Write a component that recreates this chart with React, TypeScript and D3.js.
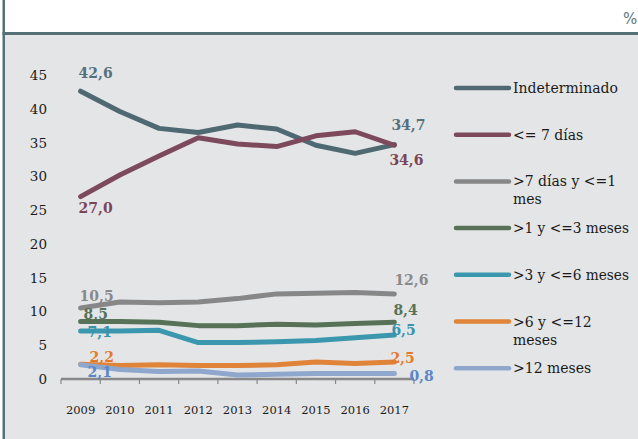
import React from "react";
import * as d3 from "d3";

const years = ["2009", "2010", "2011", "2012", "2013", "2014", "2015", "2016", "2017"];
const seriesNames = [
  "Indeterminado",
  "<= 7 días",
  ">7 días y <=1 mes",
  ">1 y <=3 meses",
  ">3 y <=6 meses",
  ">6 y <=12 meses",
  ">12 meses",
];
const indeterminado = [42.6, 39.6, 37.1, 36.5, 37.6, 37.0, 34.6, 33.4, 34.7];
const hasta7dias = [27.0, 30.2, 33.0, 35.7, 34.8, 34.4, 36.0, 36.6, 34.6];
const hasta1mes = [10.5, 11.4, 11.3, 11.4, 11.9, 12.6, 12.7, 12.8, 12.6];
const hasta3meses = [8.5, 8.5, 8.4, 7.9, 7.9, 8.1, 8.0, 8.2, 8.4];
const hasta6meses = [7.1, 7.1, 7.2, 5.4, 5.4, 5.5, 5.7, 6.1, 6.5];
const hasta12meses = [2.2, 2.0, 2.1, 2.0, 2.0, 2.1, 2.5, 2.3, 2.5];
const mas12meses = [2.1, 1.4, 1.1, 1.2, 0.6, 0.7, 0.8, 0.8, 0.8];
const seriesValues = [indeterminado, hasta7dias, hasta1mes, hasta3meses, hasta6meses, hasta12meses, mas12meses];
const yTicks = [0, 5, 10, 15, 20, 25, 30, 35, 40, 45];

const lineColors = ["#4f6973", "#7d4a5b", "#878787", "#587258", "#3b97ae", "#e0843a", "#8fa7cd"];
const labelColors = ["#56707a", "#7b4556", "#898989", "#587258", "#3a93ab", "#e47a28", "#5b86c8"];
// label offsets [first dx, first dy, last dx, last dy]
const labelOffsets = [
  [-2, -13, -3, -15],
  [-2, 16, -5, 20],
  [-1, -7, 0, -9],
  [3, -3, -1, -7],
  [7, 6, -3, 0],
  [9, -2, -4, 1],
  [7, 12, 15, 7],
];

const fmt = (v: number) => v.toFixed(1).replace(".", ",");

const FONT = "'DejaVu Serif', serif";

let ctx: CanvasRenderingContext2D | null = null;
function measure(text: string, font: string): number {
  if (!ctx) ctx = document.createElement("canvas").getContext("2d");
  if (!ctx) return text.length * 7;
  ctx.font = font;
  return ctx.measureText(text).width;
}

function wrap(text: string, maxW: number, font: string): string[] {
  const words = text.split(" ");
  const lines: string[] = [];
  let cur = "";
  for (const w of words) {
    const t = cur ? cur + " " + w : w;
    if (measure(t, font) > maxW && cur) {
      lines.push(cur);
      cur = w;
    } else cur = t;
  }
  if (cur) lines.push(cur);
  return lines;
}

export default function App() {
  const W = 638;
  const H = 439;
  const x = d3.scaleBand<string>().domain(years).range([61, 414]).padding(0);
  const y = d3.scaleLinear().domain([0, 45]).range([379, 75]);
  const cx = (yr: string) => (x(yr) as number) + x.bandwidth() / 2;
  const line = d3
    .line<number>()
    .x((_, i) => cx(years[i]))
    .y((v) => y(v));
  const tickPositions = years
    .map((yr) => x(yr) as number)
    .concat([(x(years[years.length - 1]) as number) + x.bandwidth()]);
  const legendFont = `14px DejaVu Serif`;
  const maxLegend = 116;
  const wrapW = measure(">3 y <=6 meses", legendFont) + 4;

  return (
    <div style={{ position: "fixed", left: 0, top: 0, width: W, height: H, overflow: "hidden" }}>
      <svg width={W} height={H} style={{ display: "block" }}>
        <rect x={0} y={0} width={W} height={H} fill="#ffffff" />
        <rect x={5} y={34} width={W - 5} height={H - 34} fill="#e4e5e7" />
        <rect x={2.5} y={0} width={2.5} height={H} fill="#56707a" />
        <rect x={2.5} y={32} width={W - 2.5} height={3} fill="#56707a" />
        <text x={623} y={24} fontFamily="'DejaVu Sans', sans-serif" fontSize={15} fill="#607880">%</text>

        {yTicks.map((t) => (
          <text key={t} x={47} y={y(t) + 5} textAnchor="end" fontFamily={FONT} fontSize={13.5} fill="#1a1a1a">
            {t}
          </text>
        ))}

        <line x1={61} x2={414} y1={379} y2={379} stroke="#888" strokeWidth={2.5} />
        {tickPositions.map((p, i) => (
          <line key={i} x1={p} x2={p} y1={379} y2={384} stroke="#888" strokeWidth={1.2} />
        ))}
        {years.map((yr) => (
          <text key={yr} x={cx(yr)} y={414} textAnchor="middle" fontFamily={FONT} fontSize={11.5} fill="#1a1a1a">
            {yr}
          </text>
        ))}

        {seriesValues.map((vals, s) => (
          <path
            key={s}
            d={line(vals) || ""}
            fill="none"
            stroke={lineColors[s]}
            strokeWidth={5}
            strokeLinecap="round"
            strokeLinejoin="round"
          />
        ))}

        {seriesValues.map((vals, s) => {
          const o = labelOffsets[s];
          const last = vals.length - 1;
          return (
            <g key={s} fontFamily={FONT} fontWeight="bold" fontSize={14} fill={labelColors[s]}>
              <text x={cx(years[0]) + o[0]} y={y(vals[0]) + o[1]}>{fmt(vals[0])}</text>
              <text x={cx(years[last]) + o[2]} y={y(vals[last]) + o[3]}>{fmt(vals[last])}</text>
            </g>
          );
        })}

        {seriesNames.map((name, s) => {
          const ly = 88 + s * 46.7;
          const lines = wrap(name, wrapW, legendFont);
          return (
            <g key={name}>
              <line x1={456} x2={509} y1={ly} y2={ly} stroke={lineColors[s]} strokeWidth={4.5} strokeLinecap="round" />
              {lines.map((l, i) => {
                const w = measure(l, legendFont);
                const extra = w > maxLegend ? { textLength: maxLegend, lengthAdjust: "spacingAndGlyphs" } : {};
                return (
                  <text key={i} x={513} y={ly + 5 + i * 18} fontFamily={FONT} fontSize={14} fill="#1a1a1a" {...extra}>
                    {l}
                  </text>
                );
              })}
            </g>
          );
        })}
      </svg>
    </div>
  );
}
